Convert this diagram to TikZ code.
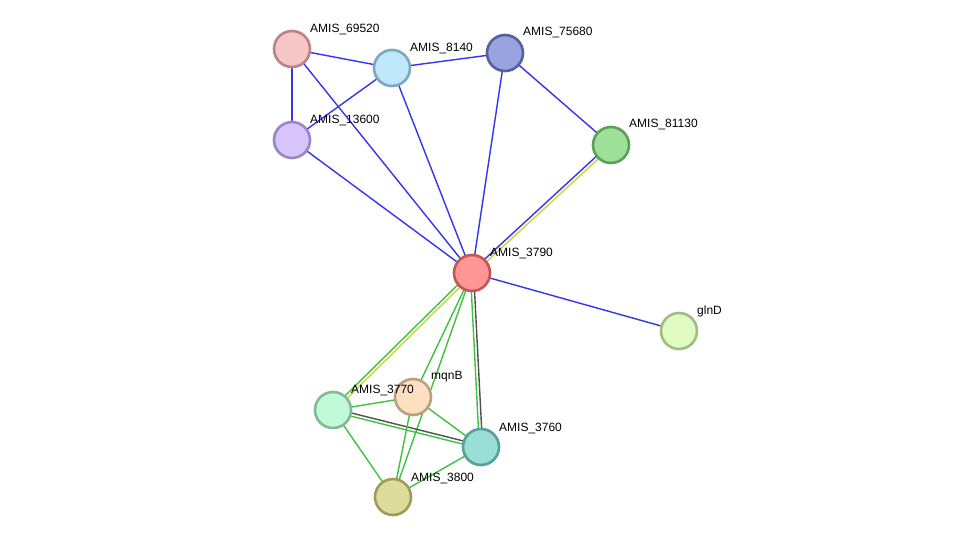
\documentclass[tikz,border=0pt]{standalone}
\usepackage{fontspec}
\setmainfont{Liberation Sans}
\usetikzlibrary{calc,backgrounds}
\definecolor{eblue}{HTML}{3535F0}
\definecolor{egreen}{HTML}{3CC43C}
\definecolor{eyellow}{HTML}{C8D83A}
\definecolor{egray}{HTML}{505050}
\definecolor{fA}{HTML}{F7C7C8}\definecolor{sA}{HTML}{B88586}
\definecolor{fB}{HTML}{C0E8FC}\definecolor{sB}{HTML}{7BA7C2}
\definecolor{fC}{HTML}{99A3E0}\definecolor{sC}{HTML}{56609C}
\definecolor{fD}{HTML}{D6C4FA}\definecolor{sD}{HTML}{9A87C2}
\definecolor{fE}{HTML}{9EE09A}\definecolor{sE}{HTML}{5CA058}
\definecolor{fF}{HTML}{FF9696}\definecolor{sF}{HTML}{C05656}
\definecolor{fG}{HTML}{E0FCC2}\definecolor{sG}{HTML}{A0BC80}
\definecolor{fH}{HTML}{C0FAD8}\definecolor{sH}{HTML}{80BA98}
\definecolor{fI}{HTML}{FDDFC2}\definecolor{sI}{HTML}{BC9F80}
\definecolor{fJ}{HTML}{99DFD8}\definecolor{sJ}{HTML}{56A099}
\definecolor{fK}{HTML}{DEDC9A}\definecolor{sK}{HTML}{9E9C58}
\tikzset{
  prot/.style 2 args={circle, minimum size=36pt, inner sep=0pt, line width=2.6pt, draw=#2, fill=#1},
  lab/.style={anchor=west, font=\fontsize{12}{14}\selectfont, inner sep=0pt},
  edge/.style={line width=1.4pt},
}
\newcommand{\twoedge}[4]{%
  \draw[edge,#3] ($(#1.center)!1.6pt!90:(#2.center)$) -- ($(#2.center)!1.6pt!-90:(#1.center)$);
  \draw[edge,#4] ($(#1.center)!1.6pt!-90:(#2.center)$) -- ($(#2.center)!1.6pt!90:(#1.center)$);
}
\newcommand{\oneedge}[3]{\draw[edge,#3] (#1.center) -- (#2.center);}
\begin{document}
\begin{tikzpicture}[x=1pt,y=-1pt]
\useasboundingbox (0,0) rectangle (975,543);
% nodes
\node[prot={fA}{sA}] (n69520) at (292,49) {};
\node[prot={fB}{sB}] (n8140) at (392,68) {};
\node[prot={fC}{sC}] (n75680) at (505,53) {};
\node[prot={fD}{sD}] (n13600) at (292,140) {};
\node[prot={fE}{sE}] (n81130) at (611,145) {};
\node[prot={fF}{sF}] (n3790) at (472,273) {};
\node[prot={fG}{sG}] (nglnD) at (679,331) {};
\node[prot={fH}{sH}] (n3770) at (333,410) {};
\node[prot={fI}{sI}] (nmqnB) at (413,397) {};
\node[prot={fJ}{sJ}] (n3760) at (481,447) {};
\node[prot={fK}{sK}] (n3800) at (393,497) {};
% labels
\node[lab] (l69520) at ($(n69520)+(18,-19)$) {AMIS\_69520};
\node[lab] (l8140) at ($(n8140)+(18,-19)$) {AMIS\_8140};
\node[lab] (l75680) at ($(n75680)+(18,-20)$) {AMIS\_75680};
\node[lab] (l13600) at ($(n13600)+(18,-19)$) {AMIS\_13600};
\node[lab] (l81130) at ($(n81130)+(18,-20)$) {AMIS\_81130};
\node[lab] (l3790) at ($(n3790)+(18,-19)$) {AMIS\_3790};
\node[lab] (lglnD) at ($(nglnD)+(18,-20)$) {glnD};
\node[lab] (l3770) at ($(n3770)+(18,-19)$) {AMIS\_3770};
\node[lab] (lmqnB) at ($(nmqnB)+(18,-20)$) {mqnB};
\node[lab] (l3760) at ($(n3760)+(18,-19)$) {AMIS\_3760};
\node[lab] (l3800) at ($(n3800)+(18,-19)$) {AMIS\_3800};
% edges
\begin{scope}[on background layer]
\fill[white] (0,0) rectangle (975,543);
\oneedge{n69520}{n8140}{eblue}
\oneedge{n69520}{n13600}{eblue}
\oneedge{n69520}{n3790}{eblue}
\oneedge{n13600}{n8140}{eblue}
\oneedge{n13600}{n3790}{eblue}
\oneedge{n8140}{n75680}{eblue}
\oneedge{n8140}{n3790}{eblue}
\oneedge{n75680}{n3790}{eblue}
\oneedge{n75680}{n81130}{eblue}
\twoedge{n3790}{n81130}{eblue}{eyellow}
\oneedge{n3790}{nglnD}{eblue}
\twoedge{n3790}{n3770}{eyellow}{egreen}
\oneedge{n3790}{nmqnB}{egreen}
\oneedge{n3790}{n3800}{egreen}
\twoedge{n3790}{n3760}{egray}{egreen}
\oneedge{n3770}{nmqnB}{egreen}
\twoedge{n3770}{n3760}{egray}{egreen}
\oneedge{n3770}{n3800}{egreen}
\oneedge{nmqnB}{n3760}{egreen}
\oneedge{nmqnB}{n3800}{egreen}
\oneedge{n3760}{n3800}{egreen}
\end{scope}
\end{tikzpicture}
\end{document}
